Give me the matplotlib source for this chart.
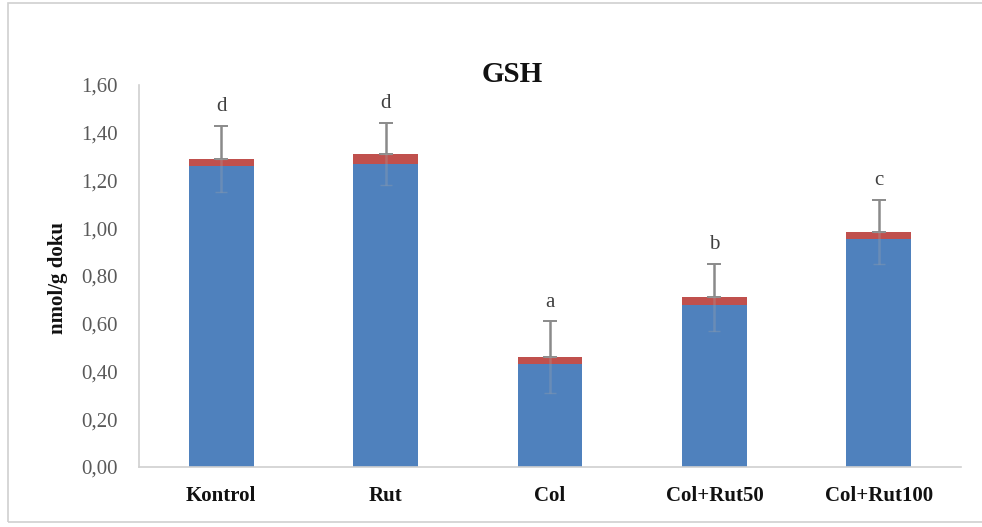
import matplotlib
matplotlib.use("Agg")
import matplotlib.pyplot as plt
from matplotlib.patches import Rectangle
from matplotlib.ticker import FuncFormatter

categories = ["Kontrol", "Rut", "Col", "Col+Rut50", "Col+Rut100"]
blue_values = [1.26, 1.27, 0.43, 0.68, 0.955]
red_values = [0.03, 0.04, 0.03, 0.03, 0.03]
errors = [0.14, 0.13, 0.15, 0.14, 0.135]
letters = ["d", "d", "a", "b", "c"]
yticks = [0.0, 0.2, 0.4, 0.6, 0.8, 1.0, 1.2, 1.4, 1.6]

serif = ["Liberation Serif", "DejaVu Serif"]

fig = plt.figure(figsize=(9.82, 5.27), dpi=100)
fig.patches.append(Rectangle((8/982, 5/527), 1.2, 519/527, transform=fig.transFigure,
                             fill=False, edgecolor="#d0d0d0", linewidth=1.2))
ax = fig.add_axes([139/982, 1-467/527, (961-139)/982, (467-85)/527])

x = list(range(len(categories)))
w = 0.395
ax.bar(x, blue_values, width=w, color="#4F81BD", zorder=2)
ax.bar(x, red_values, width=w, bottom=blue_values, color="#C0504D", zorder=2)
tops = [b + r for b, r in zip(blue_values, red_values)]
ax.errorbar(x, tops, yerr=[[0]*len(x), errors], fmt="none", ecolor="#8a8a8a",
            elinewidth=1.8, capsize=5, capthick=1.4, zorder=3)
ax.errorbar(x, tops, yerr=[errors, [0]*len(x)], fmt="none", ecolor="#a8a8a8",
            elinewidth=1.8, capsize=4, capthick=1.0, alpha=0.3, zorder=3)
for xi, t, e, l in zip(x, tops, errors, letters):
    ax.annotate(l, (xi, t + e), xytext=(0, 7), textcoords="offset points",
                ha="center", va="bottom", fontsize=15, family=serif, color="#404040")

ax.set_xlim(-0.5, len(categories) - 0.5)
ax.set_ylim(0, 1.6)
ax.set_yticks(yticks)
ax.yaxis.set_major_formatter(FuncFormatter(lambda v, p: f"{v:.2f}".replace(".", ",")))
ax.set_xticks(x)
ax.set_xticklabels(categories, fontsize=15, fontweight="bold", family=serif, color="#111111")
for lab in ax.get_yticklabels():
    lab.set_fontsize(15)
    lab.set_family(serif)
    lab.set_color("#595959")
ax.tick_params(axis="both", length=0)
ax.tick_params(axis="y", pad=15)
ax.tick_params(axis="x", pad=14)
for s in ["top", "right"]:
    ax.spines[s].set_visible(False)
ax.spines["left"].set_color("#d0d0d0")
ax.spines["bottom"].set_color("#d0d0d0")
ax.spines["left"].set_linewidth(1.2)
ax.spines["bottom"].set_linewidth(1.2)

fig.text(58/982, 1-278/527, "nmol/g doku", rotation=90, ha="center", va="center",
         fontsize=15, fontweight="bold", family=serif, color="#111111")
fig.text(512/982, 1-75/527, "GSH", ha="center", va="center",
         fontsize=21, fontweight="bold", family=serif, color="#111111")

fig.savefig("out.png", dpi=100)
